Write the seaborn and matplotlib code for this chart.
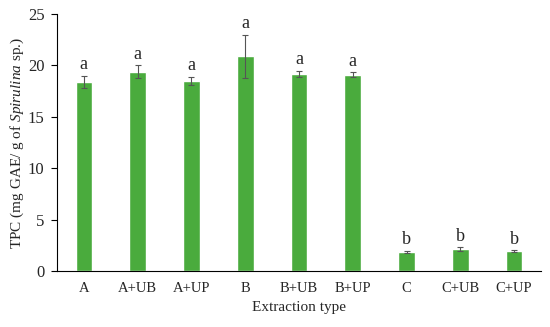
import matplotlib
matplotlib.use("Agg")
import matplotlib.pyplot as plt
import seaborn as sns
import pandas as pd

# data
extraction = ["A", "A+UB", "A+UP", "B", "B+UB", "B+UP", "C", "C+UB", "C+UP"]
tpc = [18.4, 19.4, 18.5, 20.9, 19.2, 19.1, 1.85, 2.1, 1.9]
tpc_err = [0.6, 0.6, 0.4, 2.1, 0.3, 0.25, 0.1, 0.2, 0.1]
letters = ["a", "a", "a", "a", "a", "a", "b", "b", "b"]

sns.set_style("white")
plt.rcParams["font.family"] = ["Liberation Serif", "DejaVu Serif"]
plt.rcParams["mathtext.fontset"] = "custom"
plt.rcParams["mathtext.rm"] = "Liberation Serif"
plt.rcParams["mathtext.it"] = "Liberation Serif:italic"

df = pd.DataFrame({"type": extraction, "tpc": tpc})

fig = plt.figure(figsize=(5.5, 3.27), dpi=100)
ax = fig.add_axes([0.1036, 0.1713, 0.88, 0.7857])

sns.barplot(data=df, x="type", y="tpc", color="#4aab3d", saturation=1,
            width=0.31, errorbar=None, ax=ax)
ax.errorbar(range(len(extraction)), tpc, yerr=tpc_err, fmt="none",
            ecolor="#555555", elinewidth=0.8, capsize=2.5, capthick=0.8)

for i, (v, e, s) in enumerate(zip(tpc, tpc_err, letters)):
    ax.text(i, v + e + 0.25, s, ha="center", va="bottom", fontsize=13)

ax.set_ylim(0, 25)
ax.set_xlim(-0.5, len(extraction) - 0.5)
ax.set_yticks([0, 5, 10, 15, 20, 25])
ax.set_xlabel("Extraction type", fontsize=11)
ax.set_ylabel("TPC (mg GAE/ g of $\\it{Spirulina}$ sp.)", fontsize=11, labelpad=1)
ax.tick_params(axis="y", direction="out", length=4, width=0.8, labelsize=12,
               left=True, color="black", pad=5)
ax.tick_params(axis="x", length=0, labelsize=10.5, pad=8)
sns.despine(ax=ax)
for side in ["left", "bottom"]:
    ax.spines[side].set_color("black")
    ax.spines[side].set_linewidth(0.8)

fig.savefig("out.png", dpi=100)
